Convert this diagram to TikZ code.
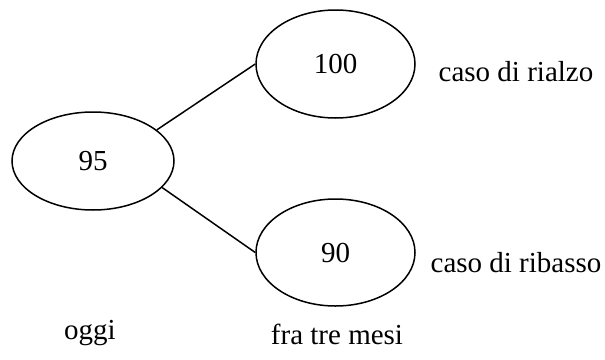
\documentclass[tikz,border=0pt]{standalone}
\usepackage{fontspec}
\setmainfont{Liberation Serif}
\usetikzlibrary{shapes.geometric}
\begin{document}
\begin{tikzpicture}[x=1pt,y=-1pt,
  oval/.style={draw,ellipse,line width=1.5pt,inner sep=0pt},
  lbl/.style={anchor=base,inner sep=0pt},
  conn/.style={line width=1.5pt}]
\useasboundingbox (0,0) rectangle (605,359);
\fontsize{29}{34}\selectfont
\node[oval,minimum width=162pt,minimum height=98pt] (e95) at (93,161) {95};
\node[oval,minimum width=159pt,minimum height=108pt] (e100) at (335.5,64) {100};
\node[oval,minimum width=159pt,minimum height=107pt] (e90) at (335.5,252.5) {90};
\draw[conn] (e95.26) -- (e100.west);
\draw[conn] (e95.-21) -- (e90.west);
\node[lbl] (t1) at (516,81) {caso di rialzo};
\node[lbl] (t2) at (516,272) {caso di ribasso};
\node[lbl] (t3) at (90,339) {oggi};
\node[lbl] (t4) at (337,344) {fra tre mesi};
\end{tikzpicture}
\end{document}
